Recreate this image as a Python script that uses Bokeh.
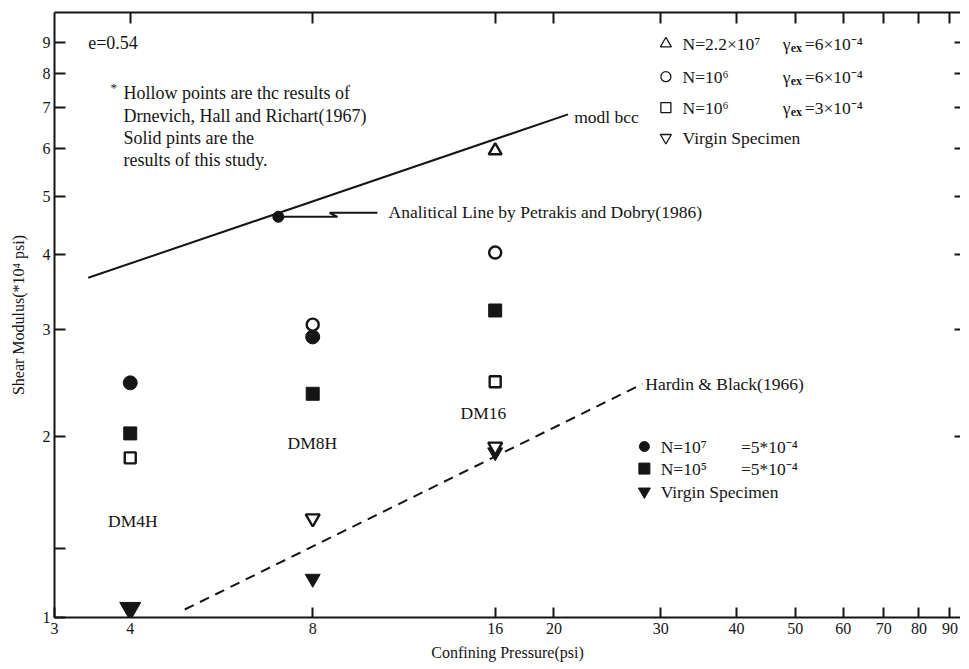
import numpy as np
from bokeh.plotting import figure
from bokeh.models import LogAxis, FixedTicker, Range1d, CustomJSTickFormatter
from bokeh.core.properties import value
from bokeh.embed import file_html
from bokeh.resources import INLINE

FONT = "Liberation Serif"
INK = "#151515"
FS = "17.5px"

# ---------------- data ----------------
x_ticks = [3, 4, 8, 16, 20, 30, 40, 50, 60, 70, 80, 90]
x_top_ticks = [4, 8, 16, 20, 30, 40, 50, 60, 70, 80, 90]
y_ticks = [1, 2, 3, 4, 5, 6, 7, 8, 9]
y_minor_ticks = [1.3]
y_right_ticks = [2, 3, 4, 5, 6, 7, 8, 9]

# this study (solid symbols)
solid_circle_x = [4, 8]
solid_circle_y = [2.45, 2.92]
solid_square_x = [4, 8, 16]
solid_square_y = [2.02, 2.35, 3.23]
solid_virgin_x = [4, 8, 16]
solid_virgin_y = [1.035, 1.16, 1.88]

# Drnevich, Hall and Richart (1967) (hollow symbols)
hollow_tri_x = [16]
hollow_tri_y = [5.95]
hollow_circle_x = [8, 16]
hollow_circle_y = [3.06, 4.03]
hollow_square_x = [4, 16]
hollow_square_y = [1.84, 2.46]
hollow_virgin_x = [8, 16]
hollow_virgin_y = [1.46, 1.92]

# analytical line (Petrakis and Dobry 1986) and Hardin & Black (1966)
petrakis_x = [3.41, 21.1]
petrakis_y = [3.66, 6.83]
hardin_x = [4.92, 28.0]
hardin_y = [1.031, 2.44]

# pointer from the analytical line to its caption
pointer_x = [7.02, 8.79, 8.53, 10.23]
pointer_y = [4.62, 4.62, 4.69, 4.69]

# text annotations
note_x = [3.41, 3.90, 3.90, 3.90, 3.90]
note_y = [8.98, 7.42, 6.80, 6.25, 5.73]
note_text = ["e=0.54",
             "Hollow points are thc results of",
             "Drnevich, Hall and Richart(1967)",
             "Solid pints are the",
             "results of this study."]
spec_x = [15.3, 7.99, 4.04]
spec_y = [2.18, 1.944, 1.448]
spec_text = ["DM16", "DM8H", "DM4H"]

# legend (upper right, hollow) and (lower right, solid)
leg1_y = [8.95, 7.89, 7.01, 6.25]
leg1_n = ["N=2.2×10⁷", "N=10⁶", "N=10⁶", "Virgin Specimen"]
leg1_g = ["=6×10⁻⁴", "=6×10⁻⁴", "=3×10⁻⁴"]
leg2_y = [1.921, 1.766, 1.618]
leg2_n = ["N=10⁷", "N=10⁵", "Virgin Specimen"]
leg2_g = ["=5*10⁻⁴", "=5*10⁻⁴"]

# ---------------- figure ----------------
p = figure(frame_width=906, frame_height=605,
           x_axis_type="log", y_axis_type="log",
           x_range=Range1d(3.0, 93.7), y_range=Range1d(1.0, 10.08),
           output_backend="svg", toolbar_location=None,
           min_border_left=54, min_border_top=12, min_border_bottom=50,
           min_border_right=0, background_fill_color="white",
           border_fill_color="white")
p.outline_line_color = None
p.xgrid.visible = False
p.ygrid.visible = False

fmt = CustomJSTickFormatter(code="return String(Math.round(tick*100)/100)")
blank = CustomJSTickFormatter(code="return ''")

def style_axis(ax, tick_in):
    ax.axis_line_color = INK
    ax.axis_line_width = 2
    ax.major_tick_line_color = INK
    ax.major_tick_line_width = 2
    ax.major_tick_in = tick_in
    ax.major_tick_out = 0
    ax.minor_tick_in = 0
    ax.minor_tick_out = 0
    ax.major_label_text_font = FONT
    ax.major_label_text_font_size = "16px"
    ax.major_label_text_color = INK
    ax.axis_label_text_font = FONT
    ax.axis_label_text_font_size = "16px"
    ax.axis_label_text_font_style = "normal"
    ax.axis_label_text_color = INK

xa = p.xaxis[0]
xa.ticker = FixedTicker(ticks=x_ticks)
xa.formatter = fmt
style_axis(xa, 10)
xa.major_label_standoff = 5
xa.axis_label = "Confining Pressure(psi)"
xa.axis_label_standoff = 7

ya = p.yaxis[0]
ya.ticker = FixedTicker(ticks=y_ticks, minor_ticks=y_minor_ticks)
ya.formatter = fmt
style_axis(ya, 11)
ya.minor_tick_in = 11
ya.minor_tick_line_width = 2
ya.minor_tick_line_color = INK
ya.major_label_standoff = 4
ya.axis_label = "Shear Modulus(*10⁴ psi)"
ya.axis_label_standoff = 13

top = LogAxis(ticker=FixedTicker(ticks=x_top_ticks), formatter=blank)
style_axis(top, 11)
top.major_label_standoff = 0
top.major_label_text_font_size = "0px"
p.add_layout(top, "above")

right = LogAxis(ticker=FixedTicker(ticks=y_right_ticks), formatter=blank)
style_axis(right, 6)
right.axis_line_alpha = 0
right.major_label_standoff = 0
right.major_label_text_font_size = "0px"
p.add_layout(right, "right")

# lines
p.line(petrakis_x, petrakis_y, line_color=INK, line_width=2)
p.line(hardin_x, hardin_y, line_color=INK, line_width=2, line_dash="10 7")
p.line(pointer_x, pointer_y, line_color=INK, line_width=2)
p.scatter([pointer_x[0]], [pointer_y[0]], marker="circle", size=11,
          fill_color=INK, line_color=INK)

# solid symbols
p.scatter(solid_circle_x, solid_circle_y, marker="circle", size=14,
          fill_color=INK, line_color=INK)
p.scatter(solid_square_x, solid_square_y, marker="square", size=13,
          fill_color=INK, line_color=INK)
p.scatter(solid_virgin_x, solid_virgin_y, marker="inverted_triangle",
          size=[21, 15, 15], fill_color=INK, line_color=INK)

# hollow symbols
hs = dict(fill_color="white", line_color=INK, line_width=2.4)
p.scatter(hollow_tri_x, hollow_tri_y, marker="triangle", size=13, **hs)
p.scatter(hollow_circle_x, hollow_circle_y, marker="circle", size=12, **hs)
p.scatter(hollow_square_x, hollow_square_y, marker="square", size=11, **hs)
p.scatter(hollow_virgin_x, hollow_virgin_y, marker="inverted_triangle",
          size=14, **hs)

txt = dict(text_font=value(FONT), text_font_size=FS, text_color=INK,
           text_baseline="middle")

# notes
p.text(note_x, note_y, text=note_text, text_align="left",
       text_font=value(FONT), text_font_size="18px", text_color=INK,
       text_baseline="middle")
p.text([3.71], [7.56], text=["*"], text_align="left",
       text_font=value(FONT), text_font_size="13px", text_color=INK,
       text_baseline="middle")
p.text([21.6], [6.77], text=["modl bcc"], text_align="left", **txt)
p.text([10.67], [4.70], text=["Analitical Line by Petrakis and Dobry(1986)"],
       text_align="left", **txt)
p.text([28.3], [2.44], text=["Hardin & Black(1966)"], text_align="left", **txt)
p.text(spec_x, spec_y, text=spec_text, text_align="center", **txt)

# upper legend (hollow symbols)
lx_m, lx_n, lx_g = 30.6, 32.6, 47.7
ls = dict(fill_color="white", line_color=INK, line_width=1.3)
p.scatter([lx_m], [leg1_y[0]], marker="triangle", size=11, **ls)
p.scatter([lx_m], [leg1_y[1]], marker="circle", size=10, **ls)
p.scatter([lx_m], [leg1_y[2]], marker="square", size=10, **ls)
p.scatter([lx_m], [leg1_y[3]], marker="inverted_triangle", size=11, **ls)
p.text([lx_n] * 4, leg1_y, text=leg1_n, text_align="left", **txt)
p.text([lx_g] * 3, leg1_y[:3], text=["γ"] * 3, text_align="left", **txt)
p.text([lx_g] * 3, leg1_y[:3], text=["ex"] * 3, text_align="left",
       x_offset=8, y_offset=4, text_font=value(FONT),
       text_font_size="12px", text_font_style="bold", text_color=INK,
       text_baseline="middle")
p.text([lx_g] * 3, leg1_y[:3], text=leg1_g, text_align="left",
       x_offset=22, **txt)

# lower legend (solid symbols)
mx_m, mx_n, mx_g = 28.2, 30.0, 40.7
p.scatter([mx_m], [leg2_y[0]], marker="circle", size=10,
          fill_color=INK, line_color=INK)
p.scatter([mx_m], [leg2_y[1]], marker="square", size=11,
          fill_color=INK, line_color=INK)
p.scatter([mx_m], [leg2_y[2]], marker="inverted_triangle", size=12,
          fill_color=INK, line_color=INK)
p.text([mx_n] * 3, leg2_y, text=leg2_n, text_align="left", **txt)
p.text([mx_g] * 2, leg2_y[:2], text=leg2_g, text_align="left", **txt)

open("out.html", "w").write(file_html(p, INLINE))
